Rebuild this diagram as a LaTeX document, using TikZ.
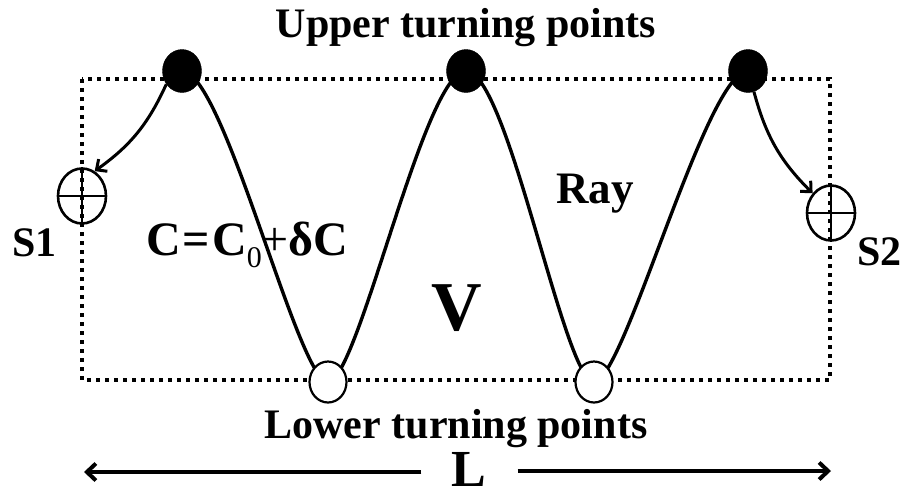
\documentclass[tikz,border=0pt]{standalone}
\usepackage{fontspec}
\setmainfont{Liberation Serif}
\usetikzlibrary{arrows.meta,shapes.geometric,backgrounds}
\begin{document}
\begin{tikzpicture}[x=1pt,y=-1pt,
  upper/.style={ellipse,fill=black,draw=black,minimum width=39pt,minimum height=43pt,inner sep=0pt},
  lower/.style={ellipse,fill=white,draw=black,line width=2.2pt,minimum width=37pt,minimum height=41pt,inner sep=0pt},
  sensor/.style={ellipse,draw=black,line width=2.6pt,minimum width=48pt,minimum height=55pt,inner sep=0pt},
  lbl/.style={font=\fontsize{42}{48}\selectfont\bfseries,inner sep=0pt,anchor=base},
  ray/.style={line width=3.4pt},
  boxline/.style={line width=4pt,dash pattern=on 4pt off 5pt},
  crossline/.style={line width=2.2pt},
  tipray/.style={line width=3pt,-{Straight Barb[length=8pt,width=15pt]}},
  tipL/.style={line width=4pt,-{Straight Barb[length=9pt,width=17pt]}}
]
\useasboundingbox (0,0) rectangle (907,498);

% turning points and sensors
\node[upper] (u1) at (182,71) {};
\node[upper] (u2) at (466,71) {};
\node[upper] (u3) at (748,71) {};
\node[lower] (l1) at (328,382) {};
\node[lower] (l2) at (594,382) {};
\node[sensor] (s1) at (82,196) {};
\node[sensor] (s2) at (831,213) {};

\begin{scope}[on background layer]
  \coordinate (b1) at (82,79);
  \coordinate (b2) at (830,380);
  \draw[boxline] (b1) rectangle (b2);
  \draw[ray] (u1.center) .. controls +(42,0) and +(-30,0) .. (l1.center)
             .. controls +(30,0) and +(-42,0) .. (u2.center)
             .. controls +(42,0) and +(-30,0) .. (l2.center)
             .. controls +(30,0) and +(-42,0) .. (u3.center);
\end{scope}

% crosses in sensors
\draw[crossline] (s1.west) -- (s1.east) (s1.north) -- (s1.south);
\draw[crossline] (s2.west) -- (s2.east) (s2.north) -- (s2.south);

% arrows to sensors
\draw[tipray] (u1.220) to[bend left=15] (s1.63);
\draw[tipray] (u3.286) to[bend right=15] (s2.133);

% labels
\node[lbl] (top) at (466,37) {Upper turning points};
\node[lbl] (bot) at (456,438) {Lower turning points};
\node[lbl,anchor=base west] (S1) at (12,256) {S1};
\node[lbl,anchor=base west] (S2) at (857,265) {S2};
\node[lbl,anchor=base west,font=\fontsize{45}{50}\selectfont\bfseries] (ray) at (556,203) {Ray};
\node[lbl,font=\fontsize{70}{76}\selectfont\bfseries] (V) at (457,330) {V};
\node[lbl,anchor=base west,font=\fontsize{48}{54}\selectfont\bfseries] (eq) at (146,255)
  {C\kern2pt=\kern2ptC\raisebox{-12pt}{\fontsize{30}{30}\selectfont\mdseries 0}{\mdseries+}δC};

% length L
\node[lbl,font=\fontsize{52}{56}\selectfont\bfseries,text depth=0pt] (L) at (469,486) {L};
\coordinate (la) at (84,472);
\coordinate (ra) at (831,471);
\draw[tipL] ([xshift=-30pt,yshift=14pt]L.base west) -- (la);
\draw[tipL] ([xshift=31pt,yshift=15pt]L.base east) -- (ra);
\end{tikzpicture}
\end{document}
